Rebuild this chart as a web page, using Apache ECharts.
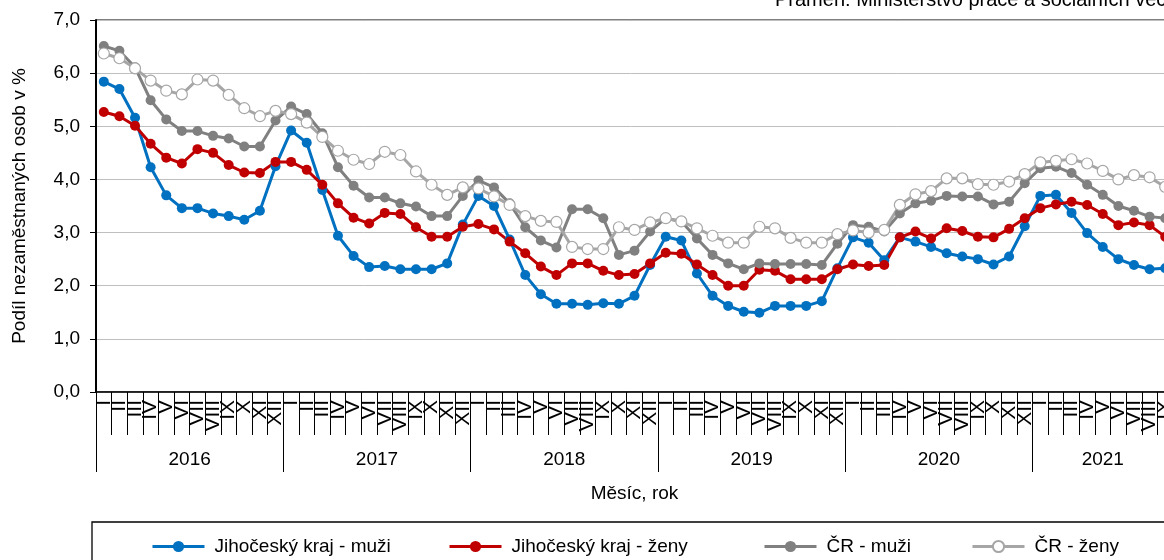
<!DOCTYPE html>
<html>
<head>
<meta charset="utf-8">
<script src="https://cdn.jsdelivr.net/npm/echarts@6/dist/echarts.min.js"></script>
<style>
  html, body { margin: 0; padding: 0; background: #fff; }
  #chart { width: 1164px; height: 560px; }
</style>
</head>
<body>
<div id="chart"></div>
<script>
// ---- data (Jan 2016 – Sep 2021) ----
const years = ['2016', '2017', '2018', '2019', '2020', '2021'];
const monthLabels = ['I', 'II', 'III', 'IV', 'V', 'VI', 'VII', 'VIII', 'IX', 'X', 'XI', 'XII'];
const seriesNames = ['Jihočeský kraj - muži', 'Jihočeský kraj - ženy', 'ČR - muži', 'ČR - ženy'];

const jckMuzi = [
  5.84, 5.70, 5.16, 4.23, 3.70, 3.46, 3.46, 3.36, 3.31, 3.24, 3.41, 4.25,
  4.92, 4.69, 3.80, 2.94, 2.56, 2.35, 2.37, 2.31, 2.31, 2.31, 2.42, 3.15,
  3.69, 3.50, 2.87, 2.20, 1.84, 1.66, 1.66, 1.64, 1.67, 1.66, 1.81, 2.39,
  2.92, 2.85, 2.23, 1.81, 1.62, 1.51, 1.49, 1.62, 1.62, 1.62, 1.71, 2.33,
  2.91, 2.81, 2.48, 2.91, 2.83, 2.73, 2.61, 2.55, 2.50, 2.40, 2.55, 3.12,
  3.69, 3.71, 3.37, 2.99, 2.73, 2.50, 2.39, 2.31, 2.33
];
const jckZeny = [
  5.27, 5.19, 5.01, 4.67, 4.41, 4.30, 4.57, 4.50, 4.27, 4.13, 4.12, 4.33,
  4.33, 4.18, 3.90, 3.55, 3.28, 3.17, 3.37, 3.35, 3.10, 2.92, 2.92, 3.11,
  3.16, 3.06, 2.83, 2.61, 2.36, 2.20, 2.42, 2.42, 2.28, 2.20, 2.22, 2.42,
  2.62, 2.60, 2.40, 2.20, 2.00, 2.00, 2.30, 2.28, 2.12, 2.12, 2.12, 2.31,
  2.40, 2.37, 2.39, 2.91, 3.02, 2.89, 3.08, 3.03, 2.92, 2.91, 3.07, 3.27,
  3.46, 3.53, 3.58, 3.52, 3.35, 3.14, 3.19, 3.14, 2.92
];
const crMuzi = [
  6.51, 6.42, 6.11, 5.49, 5.13, 4.91, 4.91, 4.82, 4.77, 4.62, 4.62, 5.11,
  5.37, 5.23, 4.87, 4.23, 3.88, 3.66, 3.66, 3.55, 3.49, 3.31, 3.31, 3.69,
  3.98, 3.85, 3.55, 3.10, 2.85, 2.72, 3.44, 3.44, 3.27, 2.58, 2.66, 3.02,
  3.27, 3.21, 2.89, 2.58, 2.42, 2.31, 2.42, 2.41, 2.41, 2.41, 2.39, 2.79,
  3.14, 3.11, 3.02, 3.36, 3.55, 3.60, 3.69, 3.68, 3.68, 3.53, 3.58, 3.93,
  4.21, 4.24, 4.12, 3.90, 3.71, 3.50, 3.41, 3.30, 3.27
];
const crZeny = [
  6.37, 6.28, 6.09, 5.86, 5.67, 5.60, 5.88, 5.86, 5.59, 5.34, 5.19, 5.29,
  5.23, 5.07, 4.80, 4.54, 4.37, 4.29, 4.52, 4.46, 4.15, 3.90, 3.71, 3.85,
  3.83, 3.68, 3.52, 3.31, 3.22, 3.20, 2.73, 2.69, 2.69, 3.10, 3.05, 3.19,
  3.27, 3.21, 3.08, 2.94, 2.81, 2.81, 3.11, 3.08, 2.90, 2.81, 2.81, 2.97,
  3.04, 3.00, 3.05, 3.52, 3.72, 3.78, 4.02, 4.02, 3.91, 3.90, 3.96, 4.10,
  4.32, 4.35, 4.38, 4.30, 4.16, 4.00, 4.08, 4.04, 3.86
];

// ---- derived axis data ----
const N = jckMuzi.length;
const monthCats = [];
for (let i = 0; i < N; i++) monthCats.push(monthLabels[i % 12]);

// half-month slots so that year labels can sit in the middle of each year block
const yearSlots = new Array(2 * N + 1).fill('');
const yearTickIdx = new Set();
years.forEach((y, i) => {
  const start = i * 12;
  const cnt = Math.min(12, N - start);
  yearSlots[2 * start + cnt] = y;
  yearTickIdx.add(2 * start);
});
yearTickIdx.add(2 * N);

const FONT = "'Liberation Sans', Arial, sans-serif";
const FS = 19;
const colors = ['#0070C0', '#C00000', '#808080', '#A6A6A6'];

const chart = echarts.init(document.getElementById('chart'), null, { renderer: 'canvas' });

function lineSeries(name, data, color, hollow) {
  return {
    name: name,
    type: 'line',
    xAxisIndex: 0,
    data: data,
    symbol: 'circle',
    symbolSize: hollow ? 11 : 10,
    showAllSymbol: true,
    lineStyle: { color: color, width: 3 },
    itemStyle: hollow
      ? { color: '#ffffff', borderColor: color, borderWidth: 1.2 }
      : { color: color, borderColor: color, borderWidth: 0 },
    emphasis: { disabled: true },
    animation: false
  };
}

const legendBase = {
  top: 537,
  padding: 0,
  itemWidth: 52,
  itemHeight: 14,
  selectedMode: false,
  lineStyle: { width: 3 },
  textStyle: { fontFamily: FONT, fontSize: FS, color: '#000', padding: [0, 0, 0, 5] }
};

const option = {
  animation: false,
  backgroundColor: '#ffffff',
  grid: {
    left: 96,
    width: 1077,
    top: 20,
    bottom: 168,
    containLabel: false,
    outerBoundsMode: 'none',
    show: true,
    borderColor: '#000',
    borderWidth: 1,
    backgroundColor: 'transparent'
  },
  legend: [
    Object.assign({ left: 151, data: [seriesNames[0]] }, legendBase),
    Object.assign({ left: 448, data: [seriesNames[1]] }, legendBase),
    Object.assign({ left: 763, data: [seriesNames[2]] }, legendBase),
    Object.assign({ left: 971, data: [seriesNames[3]] }, legendBase)
  ],
  xAxis: [
    {
      type: 'category',
      data: monthCats,
      boundaryGap: true,
      position: 'bottom',
      name: 'Měsíc, rok',
      nameLocation: 'middle',
      nameGap: 92,
      nameTextStyle: { fontFamily: FONT, fontSize: FS, color: '#000' },
      axisLine: { show: true, lineStyle: { color: '#000', width: 1.5 } },
      axisTick: { show: true, interval: 0, length: 43, lineStyle: { color: '#000', width: 1 } },
      axisLabel: {
        interval: 0,
        rotate: 90,
        margin: 8,
        fontFamily: FONT,
        fontSize: 21,
        color: '#000'
      },
      splitLine: { show: false }
    },
    {
      type: 'category',
      data: yearSlots,
      boundaryGap: false,
      position: 'bottom',
      axisLine: { show: false },
      axisTick: {
        show: true,
        length: 80,
        interval: function (idx) { return yearTickIdx.has(idx); },
        lineStyle: { color: '#000', width: 1 }
      },
      axisLabel: {
        interval: function (idx, val) { return val !== ''; },
        margin: 58,
        fontFamily: FONT,
        fontSize: FS,
        color: '#000'
      },
      splitLine: { show: false }
    }
  ],
  yAxis: {
    type: 'value',
    min: 0,
    max: 7,
    interval: 1,
    name: 'Podíl nezaměstnaných osob v %',
    nameLocation: 'middle',
    nameGap: 67,
    nameTextStyle: { fontFamily: FONT, fontSize: FS, color: '#000' },
    axisLine: { show: true, lineStyle: { color: '#000', width: 2 } },
    axisTick: { show: true, length: 6, lineStyle: { color: '#000', width: 1 } },
    axisLabel: {
      margin: 16,
      fontFamily: FONT,
      fontSize: FS,
      color: '#000',
      formatter: function (v) { return v.toFixed(1).replace('.', ','); }
    },
    splitLine: { show: true, lineStyle: { color: '#BFBFBF', width: 1 } }
  },
  graphic: [
    {
      type: 'rect',
      silent: true,
      shape: { x: 92, y: 522, width: 1200, height: 100 },
      style: { fill: 'none', stroke: '#000', lineWidth: 1.3 }
    },
    {
      type: 'text',
      silent: true,
      style: {
        x: 775,
        y: -10,
        text: 'Pramen: Ministerstvo práce a sociálních věcí',
        fontFamily: FONT,
        fontSize: 20,
        fill: '#000',
        verticalAlign: 'top'
      }
    }
  ],
  series: [
    lineSeries(seriesNames[0], jckMuzi, colors[0], false),
    lineSeries(seriesNames[1], jckZeny, colors[1], false),
    lineSeries(seriesNames[2], crMuzi, colors[2], false),
    lineSeries(seriesNames[3], crZeny, colors[3], true)
  ]
};

chart.setOption(option);
</script>
</body>
</html>
